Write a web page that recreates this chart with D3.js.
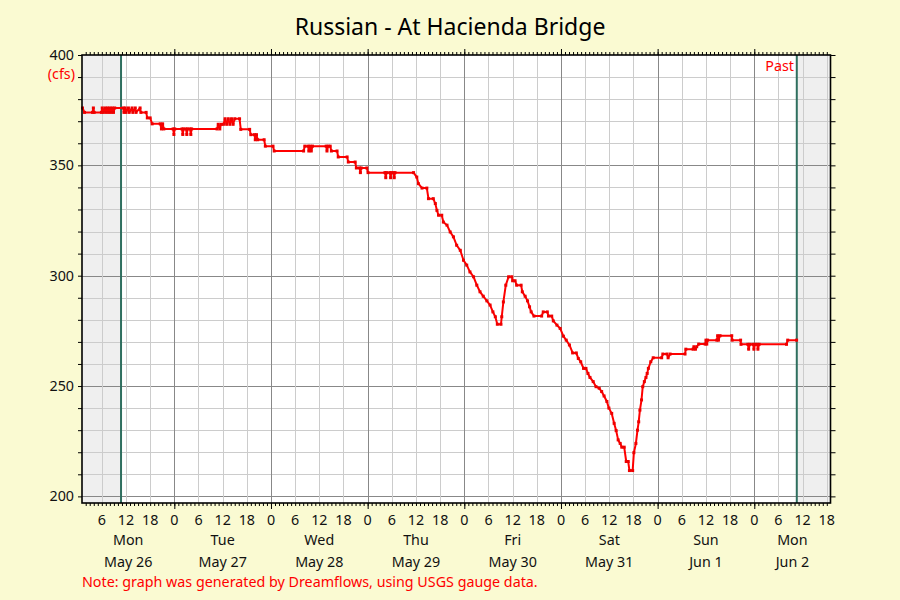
<!DOCTYPE html>
<html><head><meta charset="utf-8">
<script src="https://cdn.jsdelivr.net/npm/d3@7"></script>
<style>
body{margin:0;background:#fafad2;}
svg{display:block;font-family:"Noto Sans",sans-serif;}
</style>
</head><body><svg id="c" width="900" height="600"></svg>
<script>
// ---- data (hours since Mon May 26 00:00, flow in cfs) ----
const hours = [1.2,1.7,3.7,3.9,4.1,5.9,6.1,6.4,6.8,7.1,7.4,7.7,8.0,8.3,8.6,8.9,9.2,11.3,11.5,11.8,12.0,12.6,12.8,13.5,13.7,14.3,14.5,15.5,15.7,17.0,17.3,18.0,18.5,20.5,20.8,21.1,21.4,23.7,23.9,24.1,25.9,26.1,26.3,26.9,27.1,27.3,27.9,28.1,28.3,34.6,34.9,35.3,35.6,36.2,36.6,37.0,37.4,37.8,38.2,38.6,39.0,40.2,40.5,42.7,43.0,43.9,44.1,44.4,44.7,46.3,46.6,48.5,48.8,56.1,56.4,57.2,57.4,57.7,58.0,58.3,61.7,61.9,62.2,62.7,63.0,64.4,64.7,66.9,67.2,68.9,69.2,70.0,70.2,70.4,71.8,72.1,76.3,76.5,76.7,77.5,77.7,77.9,78.4,78.6,78.8,83.4,84.2,84.6,85.5,86.7,87.1,88.3,88.8,89.2,89.6,90.4,90.8,91.7,92.5,93.3,94.1,95.0,95.8,96.6,97.4,98.3,99.1,99.9,100.7,101.6,102.4,103.1,103.7,104.2,105.1,105.3,105.7,106.3,107.0,107.8,108.0,108.6,109.0,110.1,110.4,111.1,111.7,112.2,112.6,113.3,115.2,115.6,116.6,116.9,117.7,118.1,119.0,119.8,120.6,121.3,122.1,122.9,123.8,124.3,124.9,125.6,126.2,126.7,127.2,128.0,128.7,129.5,130.1,130.7,131.4,131.9,132.6,133.2,133.7,134.2,134.7,135.1,135.7,136.2,136.7,137.0,137.8,138.1,138.6,139.0,139.3,139.6,140.0,140.3,140.7,141.1,141.4,141.7,142.3,142.9,145.0,145.3,146.3,146.6,147.1,150.8,151.0,152.8,153.0,153.4,153.7,154.2,155.8,156.0,156.2,156.4,158.7,158.9,159.1,159.5,162.4,162.5,164.6,164.7,166.4,166.6,166.9,167.7,167.9,168.2,168.7,168.9,169.2,176.0,176.3,178.5];
const cfs = [376,374,374,376,374,374,376,374,376,374,376,374,376,374,376,374,376,376,374,376,374,376,374,376,374,376,374,376,374,374,371.5,371.5,368.8,368.8,366.5,368.8,366.5,366.5,364,366.5,366.5,364,366.5,366.5,364,366.5,366.5,364,366.5,366.5,368.6,366.5,368.6,368.6,371.1,368.6,371.1,368.6,371.1,368.6,371.1,371.1,366.3,366.3,363.9,363.9,361.6,363.9,361.6,361.6,358.7,358.7,356.5,356.5,358.7,358.7,356.5,358.7,356.5,358.7,358.7,356.5,358.7,358.7,356.5,356.5,353.8,353.8,351.5,351.5,348.8,348.8,346.7,348.8,348.8,346.7,346.7,344.4,346.7,346.7,344.4,346.7,346.7,344.4,346.7,346.7,344.7,341.7,339.7,339.7,334.9,334.9,332.7,329.6,327.4,327.4,324.3,322.9,319.8,317.6,313.8,311.5,307,304.8,301.7,299.5,295.7,292.7,290.7,288.6,286.7,283.6,281.4,278,278,281.4,288.1,295.7,299.5,299.5,297.7,297.7,295.7,295.7,292.7,290.7,288.6,285.9,283.6,281.7,281.7,283.6,283.6,281.7,281.7,279.5,277.6,276.1,272.6,270.8,268.6,265,265,262.5,261,258,258,255.7,253.9,252,249.7,249,247.5,245.5,243,240,237.6,233.1,229.8,225.6,224,222.3,222.3,215.8,215.8,211.7,211.7,219.8,224,230,233.8,239.1,243.7,249.7,252,253.9,255.7,258,261,262.8,262.8,264.5,264.5,262.8,264.5,264.5,266.7,266.7,267.8,266.7,267.8,269,269,270.8,269,270.8,270.8,272.8,270.8,272.8,272.8,270.8,270.8,268.9,268.9,266.7,268.9,268.9,266.7,268.9,268.9,266.7,268.9,268.9,270.8,270.8];
const dayNames = ["Mon","Tue","Wed","Thu","Fri","Sat","Sun","Mon"];
const dayDates = ["May 26","May 27","May 28","May 29","May 30","May 31","Jun 1","Jun 2"];
const hourLabels = ["0","6","12","18"];
const yTickValues = [200,250,300,350,400];
const titleText = "Russian - At Hacienda Bridge";
const unitText = "(cfs)";
const pastText = "Past";
const noteText = "Note: graph was generated by Dreamflows, using USGS gauge data.";
const pastStart = 10.77, pastEnd = 178.55;
const hourDomain = [1.08, 186.92];
const cfsDomain = [197, 400];

// ---- layout ----
const L = 82, R = 830.5, T = 55, B = 503;
const svg = d3.select("#c");
const x = d3.scaleLinear().domain(hourDomain).range([L, R]);
const y = d3.scaleLinear().domain(cfsDomain).range([B, T]);
const cr = v => Math.round(v) + 0.5;

svg.append("rect").attr("width",900).attr("height",600).attr("fill","#fafad2");
svg.append("rect").attr("x",L).attr("y",T).attr("width",R-L).attr("height",B-T).attr("fill","#ffffff");
svg.append("rect").attr("x",L).attr("y",T).attr("width",x(pastStart)-L).attr("height",B-T).attr("fill","#efefef");
svg.append("rect").attr("x",x(pastEnd)).attr("y",T).attr("width",R-x(pastEnd)).attr("height",B-T).attr("fill","#efefef");

// grid
const g = svg.append("g");
d3.range(200, 400, 10).forEach(v => {
  g.append("line").attr("x1",L).attr("x2",R).attr("y1",cr(y(v))).attr("y2",cr(y(v)))
   .attr("stroke", v % 50 === 0 ? "#888888" : "#cccccc").attr("stroke-width",1);
});
d3.range(6, 187, 6).forEach(h => {
  g.append("line").attr("y1",T).attr("y2",B).attr("x1",cr(x(h))).attr("x2",cr(x(h)))
   .attr("stroke", h % 24 === 0 ? "#888888" : "#cccccc").attr("stroke-width",1);
});

[pastStart, pastEnd].forEach(h => {
  svg.append("line").attr("x1",x(h)).attr("x2",x(h)).attr("y1",T).attr("y2",B)
    .attr("stroke","#2f6f5f").attr("stroke-width",2);
});

// data
const pts = hours.map((h,i) => [h, cfs[i]]);
const line = d3.line().x(d => x(d[0])).y(d => y(d[1]));
svg.append("path").datum(pts).attr("d", line).attr("fill","none")
  .attr("stroke","#ff0000").attr("stroke-width",2).attr("stroke-linejoin","round");
svg.append("g").selectAll("rect").data(pts).join("rect")
  .attr("x", d => x(d[0]) - 1.5).attr("y", d => y(d[1]) - 1.5)
  .attr("width",3).attr("height",3).attr("fill","#ee0000");

// axes (ticks)
const hourTicks = d3.range(2, 187, 1);
const dayTicks = d3.range(24, 187, 24);
function styleAxis(sel){ sel.selectAll("path,line").attr("stroke","#000"); sel.select(".domain").remove(); }
svg.append("g").attr("transform",`translate(0,${B})`)
  .call(d3.axisBottom(x).tickValues(hourTicks).tickSize(3).tickFormat("")).call(styleAxis);
svg.append("g").attr("transform",`translate(0,${B})`)
  .call(d3.axisBottom(x).tickValues(dayTicks).tickSize(6).tickFormat("")).call(styleAxis);
svg.append("g").attr("transform",`translate(0,${T})`)
  .call(d3.axisTop(x).tickValues(hourTicks).tickSize(3).tickFormat("")).call(styleAxis);
svg.append("g").attr("transform",`translate(0,${T})`)
  .call(d3.axisTop(x).tickValues(dayTicks).tickSize(6).tickFormat("")).call(styleAxis);
svg.append("g").attr("transform",`translate(${L},0)`)
  .call(d3.axisLeft(y).tickValues(d3.range(200,401,10)).tickSize(4).tickFormat("")).call(styleAxis);
svg.append("g").attr("transform",`translate(${R},0)`)
  .call(d3.axisRight(y).tickValues(d3.range(200,401,10)).tickSize(5).tickFormat("")).call(styleAxis);

svg.append("rect").attr("x",L).attr("y",T).attr("width",R-L).attr("height",B-T)
  .attr("fill","none").attr("stroke","#000").attr("stroke-width",1.6);

// y labels
yTickValues.forEach(v => {
  svg.append("text").attr("x",74).attr("y",y(v)+5).attr("text-anchor","end")
    .attr("font-size",14.3).attr("fill","#111").text(v);
});
svg.append("text").attr("x",75).attr("y",79).attr("text-anchor","end")
  .attr("font-size",14.3).attr("fill","#ff0000").text(unitText);
svg.append("text").attr("x",794).attr("y",71).attr("text-anchor","end")
  .attr("font-size",14.3).attr("fill","#ff0000").text(pastText);

// x labels
d3.range(6, 187, 6).forEach(h => {
  svg.append("text").attr("x",x(h)).attr("y",525).attr("text-anchor","middle")
    .attr("font-size",14.3).attr("fill","#111").text(hourLabels[(h % 24)/6]);
});
dayNames.forEach((n,i) => {
  // centre each day label on the visible part of that day
  const h0 = Math.max(i*24, hourDomain[0]), h1 = Math.min((i+1)*24, hourDomain[1]);
  const cx = (x(h0) + x(h1)) / 2;
  svg.append("text").attr("x",cx).attr("y",545).attr("text-anchor","middle")
    .attr("font-size",14.3).attr("fill","#111").text(n);
  svg.append("text").attr("x",cx).attr("y",567).attr("text-anchor","middle")
    .attr("font-size",14.3).attr("fill","#111").text(dayDates[i]);
});

svg.append("text").attr("x",450).attr("y",35).attr("text-anchor","middle")
  .attr("font-size",23).attr("fill","#000").text(titleText);
svg.append("text").attr("x",82).attr("y",587).attr("font-size",14.3)
  .attr("fill","#ff0000").text(noteText);
</script>
</body></html>
